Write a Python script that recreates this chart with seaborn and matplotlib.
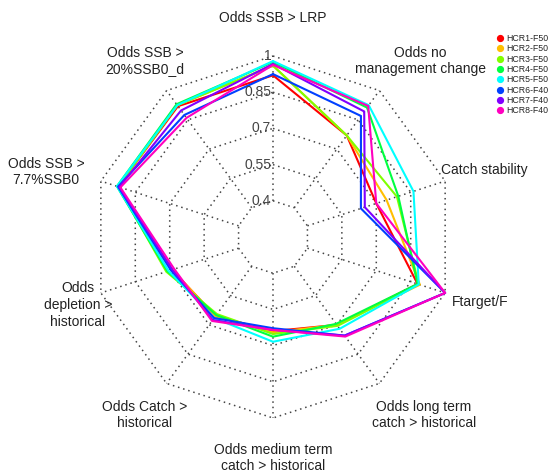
import numpy as np
import pandas as pd
import matplotlib.pyplot as plt
from matplotlib.lines import Line2D
import seaborn as sns

sns.set_style("white")
plt.rcParams['font.family'] = ['Liberation Sans', 'DejaVu Sans']

# axis labels (clockwise from top)
axis_labels = ["Odds SSB > LRP", "Odds no\nmanagement change", "Catch stability",
               "Ftarget/F", "Odds long term\ncatch > historical",
               "Odds medium term\ncatch > historical", "Odds Catch >\nhistorical",
               "Odds\ndepletion >\nhistorical", "Odds SSB >\n7.7%SSB0",
               "Odds SSB >\n20%SSB0_d"]

hcr_names = ["HCR1-F50", "HCR2-F50", "HCR3-F50", "HCR4-F50",
             "HCR5-F50", "HCR6-F40", "HCR7-F40", "HCR8-F40"]

hcr1 = [0.920, 0.770, 0.700, 0.880, 0.700, 0.640, 0.655, 0.690, 0.925, 0.920]
hcr2 = [0.960, 0.770, 0.745, 0.890, 0.700, 0.645, 0.655, 0.690, 0.925, 0.925]
hcr3 = [0.960, 0.770, 0.790, 0.885, 0.705, 0.652, 0.645, 0.715, 0.925, 0.925]
hcr4 = [0.975, 0.913, 0.796, 0.880, 0.695, 0.663, 0.650, 0.710, 0.930, 0.930]
hcr5 = [0.979, 0.925, 0.862, 0.885, 0.720, 0.684, 0.665, 0.705, 0.930, 0.925]
hcr6 = [0.925, 0.870, 0.633, 1.000, 0.755, 0.628, 0.665, 0.695, 0.925, 0.875]
hcr7 = [0.967, 0.893, 0.650, 1.000, 0.755, 0.635, 0.675, 0.688, 0.920, 0.898]
hcr8 = [0.963, 0.921, 0.700, 1.000, 0.760, 0.635, 0.680, 0.680, 0.915, 0.860]
series = [hcr1, hcr2, hcr3, hcr4, hcr5, hcr6, hcr7, hcr8]

# R rainbow(8)
colors = ["#FF0000", "#FFBF00", "#80FF00", "#00FF40",
          "#00FFFF", "#0040FF", "#8000FF", "#FF00BF"]

ring_labels = ["0.4", "0.55", "0.7", "0.85", "1"]
vmin, vmax = 0.25, 1.0

n = len(axis_labels)
theta = np.arange(n) * 2 * np.pi / n


def to_xy(r, th):
    return r * np.sin(th), r * np.cos(th)


# long-form table of closed polygons
rows = []
for name, vals in zip(hcr_names, series):
    for i in list(range(n)) + [0]:
        r = (vals[i] - vmin) / (vmax - vmin)
        x, y = to_xy(r, theta[i])
        rows.append({"hcr": name, "x": x, "y": y})
df = pd.DataFrame(rows)

W, H = 556, 476
cx, cy, R = 273, 237, 181
fig = plt.figure(figsize=(W / 100, H / 100), dpi=100)
ax = fig.add_axes([0, 0, 1, 1])

# grid: rings and spokes (spokes start at the inner ring)
grid_kw = dict(color="#444444", lw=1.1, ls=(0, (1, 2.5)), zorder=1)
for k in range(1, 6):
    rr = k / 5
    gx, gy = to_xy(rr, np.append(theta, theta[0]))
    ax.plot(gx, gy, **grid_kw)
for th in theta:
    gx, gy = to_xy(np.array([0.2, 1.0]), th)
    ax.plot(gx, gy, **grid_kw)

sns.lineplot(data=df, x="x", y="y", hue="hcr", palette=colors, sort=False,
             estimator=None, units="hcr", lw=1.5, legend=False, ax=ax, zorder=3)
ax.set_xlim(-cx / R, (W - cx) / R)
ax.set_ylim(-(H - cy) / R, cy / R)
ax.axis("off")

# ring value labels
for k, lab in enumerate(ring_labels, start=1):
    ax.text(-0.01, k / 5, lab, ha="right", va="center", fontsize=10,
            color="#444444", zorder=4)

# axis labels (pixel centres)
label_px = [(273, 18), (420, 61), (484, 170), (480, 302), (424, 415),
            (273, 458), (145, 415), (78, 305), (46, 172), (145, 61)]
for lab, (px, py) in zip(axis_labels, label_px):
    ax.text((px - cx) / R, (cy - py) / R, lab, ha="center", va="center",
            fontsize=10, color="#222222", linespacing=1.25)

handles = [Line2D([], [], ls="none", marker="o", ms=4.2, color=c) for c in colors]
leg = fig.legend(handles, hcr_names, loc="upper left",
                 bbox_to_anchor=(494 / W, 1 - 34 / H),
                 frameon=False, fontsize=6.3, handletextpad=0.15,
                 labelspacing=0.15, handlelength=1.3, borderpad=0,
                 borderaxespad=0)

fig.savefig("out.png", dpi=100)
